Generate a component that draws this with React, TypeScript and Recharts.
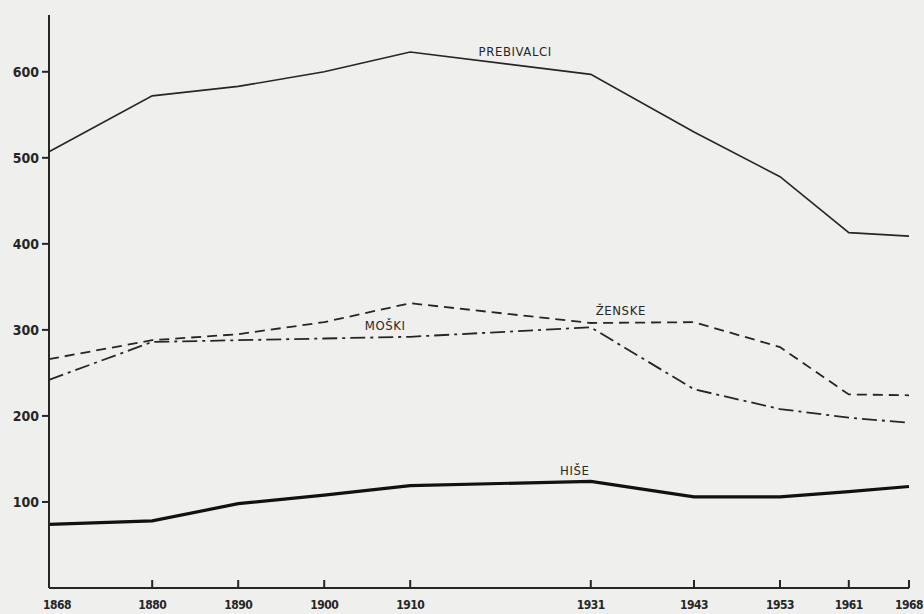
import { LineChart, Line, XAxis, YAxis } from 'recharts';

// census years and values
const years = [1868, 1880, 1890, 1900, 1910, 1931, 1943, 1953, 1961, 1968];
const prebivalci = [507, 572, 583, 600, 623, 597, 530, 478, 413, 409];
const zenske = [266, 288, 295, 309, 331, 308, 309, 280, 225, 224];
const moski = [242, 286, 288, 290, 292, 303, 231, 208, 198, 192];
const hise = [74, 78, 98, 108, 119, 124, 106, 106, 112, 118];
const yTicks = [100, 200, 300, 400, 500, 600];

const data = years.map((year, i) => ({
  year,
  prebivalci: prebivalci[i],
  zenske: zenske[i],
  moski: moski[i],
  hise: hise[i],
}));

const INK = '#262626';
const FONT = '"DejaVu Sans Condensed", "DejaVu Sans", sans-serif';

function seriesLabel(text: string, at: number, dx: number, dy: number) {
  return (props: any) => {
    if (props.index !== at) return null;
    return (
      <text
        x={props.x + dx}
        y={props.y + dy}
        textAnchor="middle"
        dominantBaseline="central"
        fontFamily={FONT}
        fontSize={13}
        letterSpacing={0.6}
        fill={INK}
      >
        {text}
      </text>
    );
  };
}

function YearTick(props: any) {
  const { x, y, payload, index } = props;
  return (
    <g>
      <line x1={x} y1={y} x2={x} y2={y - 8} stroke={INK} strokeWidth={2} />
      <text
        x={index === 0 ? x + 8 : x}
        y={y + 17}
        textAnchor="middle"
        dominantBaseline="central"
        fontFamily={FONT}
        fontSize={12}
        fontWeight="bold"
        fill={INK}
        letterSpacing={-0.5}
      >
        {payload.value}
      </text>
    </g>
  );
}

export default function App() {
  return (
    <div
      style={{
        position: 'absolute',
        left: 0,
        top: 0,
        width: 924,
        height: 614,
        background: '#efefed',
      }}
    >
      <LineChart width={924} height={614} data={data} margin={{ top: 15, right: 15, bottom: 0, left: 0 }}>
        <XAxis
          dataKey="year"
          type="number"
          domain={[1868, 1968]}
          ticks={years}
          interval={0}
          height={26}
          tickSize={0}
          tickMargin={0}
          tick={<YearTick />}
          axisLine={{ stroke: INK, strokeWidth: 2 }}
        />
        <YAxis
          type="number"
          domain={[0, 666]}
          ticks={yTicks}
          width={49}
          tickSize={7}
          tickMargin={3}
          axisLine={{ stroke: INK, strokeWidth: 2 }}
          tickLine={{ stroke: INK, strokeWidth: 2 }}
          tick={{ fill: INK, fontFamily: FONT, fontSize: 14, fontWeight: 'bold' }}
        />
        <Line
          dataKey="prebivalci"
          stroke={INK}
          strokeWidth={1.6}
          dot={false}
          isAnimationActive={false}
          label={seriesLabel('PREBIVALCI', 4, 105, 0)}
        />
        <Line
          dataKey="zenske"
          stroke={INK}
          strokeWidth={1.8}
          strokeDasharray="10 6"
          dot={false}
          isAnimationActive={false}
          label={seriesLabel('ŽENSKE', 5, 30, -13)}
        />
        <Line
          dataKey="moski"
          stroke={INK}
          strokeWidth={1.8}
          strokeDasharray="15 5 3 5"
          dot={false}
          isAnimationActive={false}
          label={seriesLabel('MOŠKI', 4, -25, -11)}
        />
        <Line
          dataKey="hise"
          stroke="#111"
          strokeWidth={3.2}
          dot={false}
          isAnimationActive={false}
          label={seriesLabel('HIŠE', 5, -16, -11)}
        />
      </LineChart>
    </div>
  );
}
